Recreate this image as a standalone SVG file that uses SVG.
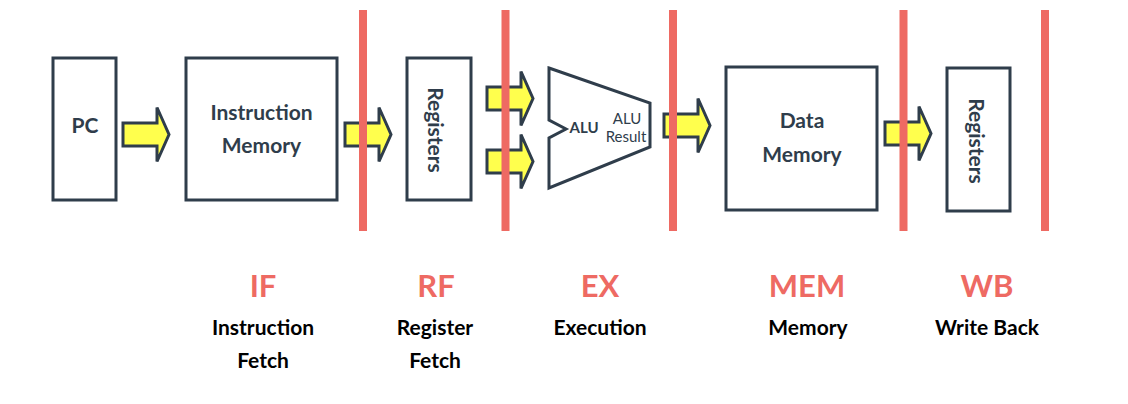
<svg xmlns="http://www.w3.org/2000/svg" width="1128" height="404" viewBox="0 0 1128 404">
<style>
.box{fill:#fff;stroke:#2f3d4b;stroke-width:3}
.arr{fill:#ffff4d;stroke:#2f3d4b;stroke-width:3;stroke-linejoin:miter}
.bar{fill:#ee6a63}
.bt{font-family:Lato,"Open Sans",sans-serif;font-weight:bold;font-size:21px;fill:#2f3d4b;text-anchor:middle}
.rt{font-family:Lato,"Open Sans",sans-serif;font-size:15px;fill:#2f3d4b;text-anchor:middle}
.st{font-family:Lato,"Open Sans",sans-serif;font-weight:bold;font-size:31px;fill:#ee6a63;text-anchor:middle}
.sl{font-family:Lato,"Open Sans",sans-serif;font-weight:bold;font-size:21px;fill:#000;text-anchor:middle}
</style>
<defs>
<path id="blk" d="M0,-11.5 H34 V-27 L46,0 L34,27 V11.5 H0 Z"/>
</defs>
<rect width="1128" height="404" fill="#fff"/>
<g id="pc"><rect class="box" x="53" y="58" width="63" height="142"/><text class="bt" x="85" y="133">PC</text></g>
<g id="imem"><rect class="box" x="186" y="58" width="151" height="142"/><text class="bt" x="261.5" y="120">Instruction</text><text class="bt" x="261.5" y="153">Memory</text></g>
<g id="regs"><rect class="box" x="407" y="58" width="64" height="142"/><text class="bt" transform="translate(435,130) rotate(90)" x="0" y="7">Registers</text></g>
<g id="alu"><path class="box" d="M549,68 L650,103 L650,147 L549,188 L549,138 L566,129 L549,120 Z"/><text class="rt" x="584" y="133" font-weight="bold">ALU</text><text class="rt" x="627" y="124">ALU</text><text class="rt" x="626" y="142">Result</text></g>
<g id="dmem"><rect class="box" x="726" y="67" width="151" height="143"/><text class="bt" x="802" y="128">Data</text><text class="bt" x="802" y="162">Memory</text></g>
<g id="wbregs"><rect class="box" x="947" y="68" width="63" height="143"/><text class="bt" transform="translate(976,141) rotate(90)" x="0" y="7">Registers</text></g>
<g id="connectors">
<use href="#blk" class="arr" x="123" y="134.5"/>
<use href="#blk" class="arr" x="345" y="134.5"/>
<use href="#blk" class="arr" x="487" y="98.5"/>
<use href="#blk" class="arr" x="487" y="161.5"/>
<use href="#blk" class="arr" x="664" y="125.5"/>
<use href="#blk" class="arr" x="885" y="133.5"/>
</g>
<g id="stage-bars">
<rect class="bar" x="359" y="10" width="8" height="221"/>
<rect class="bar" x="501.5" y="10" width="8" height="221"/>
<rect class="bar" x="669" y="10" width="8" height="221"/>
<rect class="bar" x="899.5" y="10" width="8" height="221"/>
<rect class="bar" x="1041" y="10" width="8" height="221"/>
</g>
<g id="stage-if"><text class="st" x="263" y="297">IF</text><text class="sl" x="263" y="335">Instruction</text><text class="sl" x="263" y="368">Fetch</text></g>
<g id="stage-rf"><text class="st" x="436" y="297">RF</text><text class="sl" x="435" y="335">Register</text><text class="sl" x="435" y="368">Fetch</text></g>
<g id="stage-ex"><text class="st" x="600" y="297">EX</text><text class="sl" x="600" y="335">Execution</text></g>
<g id="stage-mem"><text class="st" x="807" y="297">MEM</text><text class="sl" x="808" y="335">Memory</text></g>
<g id="stage-wb"><text class="st" x="987" y="297">WB</text><text class="sl" x="987" y="335">Write Back</text></g>
</svg>
